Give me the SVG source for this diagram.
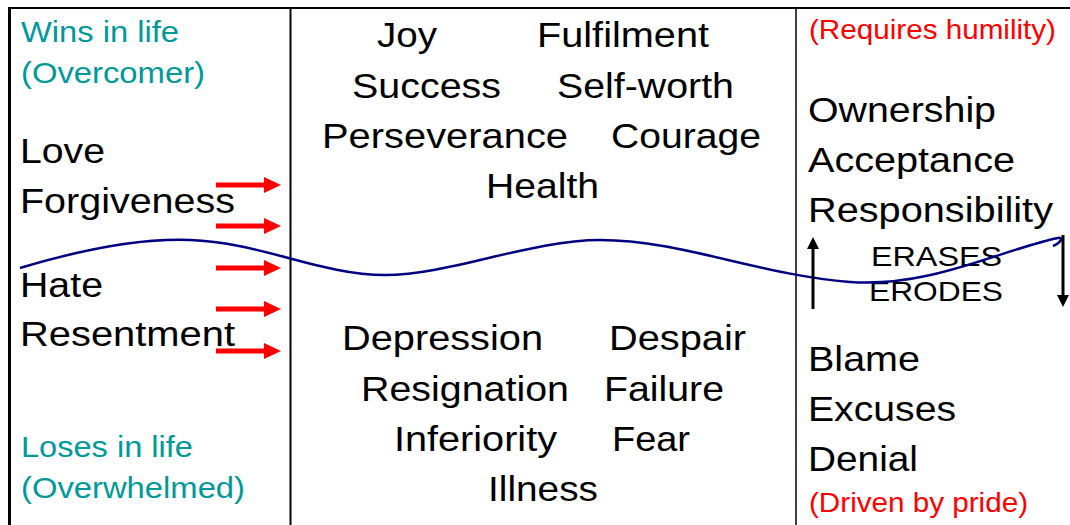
<svg xmlns="http://www.w3.org/2000/svg" width="1070" height="525" viewBox="0 0 1070 525">
<style>
text{font-family:"Liberation Sans",Arial,sans-serif;}
.b{font-size:35px;fill:#000;}
.t{font-size:29px;fill:#009999;}
.r{font-size:28px;fill:#ff0000;}
.e{font-size:28px;fill:#000;}
.grid{stroke:#000;fill:none;}
.ra{fill:#ff0000;}
</style>
<defs>
<marker id="bk" markerWidth="4" markerHeight="4" refX="2" refY="2" orient="auto" markerUnits="strokeWidth">
<path d="M0,0 L4,2 L0,4 z" fill="#000"/>
</marker>
</defs>
<rect width="1070" height="525" fill="#fff"/>
<g id="table">
<line class="grid" x1="8" y1="8" x2="1070" y2="8" stroke-width="2" stroke="#333"/>
<line class="grid" x1="9.5" y1="7" x2="9.5" y2="525" stroke-width="3"/>
<line class="grid" x1="290.5" y1="8" x2="290.5" y2="525" stroke-width="2"/>
<line class="grid" x1="796" y1="8" x2="796" y2="525" stroke-width="1.5"/>
</g>
<g id="left">
<text class="t" x="21" y="42" textLength="158" lengthAdjust="spacingAndGlyphs">Wins in life</text>
<text class="t" x="21" y="83" textLength="184" lengthAdjust="spacingAndGlyphs">(Overcomer)</text>
<text class="b" x="20" y="163" textLength="85" lengthAdjust="spacingAndGlyphs">Love</text>
<text class="b" x="20" y="213" textLength="215" lengthAdjust="spacingAndGlyphs">Forgiveness</text>
<text class="b" x="20" y="297" textLength="83" lengthAdjust="spacingAndGlyphs">Hate</text>
<text class="b" x="20" y="346" textLength="215" lengthAdjust="spacingAndGlyphs">Resentment</text>
<text class="t" x="21" y="457" textLength="172" lengthAdjust="spacingAndGlyphs">Loses in life</text>
<text class="t" x="21" y="498" textLength="224" lengthAdjust="spacingAndGlyphs">(Overwhelmed)</text>
</g>
<g id="middle-top">
<text class="b" x="377" y="47" textLength="60" lengthAdjust="spacingAndGlyphs">Joy</text>
<text class="b" x="537" y="47" textLength="172" lengthAdjust="spacingAndGlyphs">Fulfilment</text>
<text class="b" x="352" y="98" textLength="149" lengthAdjust="spacingAndGlyphs">Success</text>
<text class="b" x="557" y="98" textLength="177" lengthAdjust="spacingAndGlyphs">Self-worth</text>
<text class="b" x="322" y="148" textLength="246" lengthAdjust="spacingAndGlyphs">Perseverance</text>
<text class="b" x="611" y="148" textLength="150" lengthAdjust="spacingAndGlyphs">Courage</text>
<text class="b" x="486" y="198" textLength="113" lengthAdjust="spacingAndGlyphs">Health</text>
</g>
<g id="middle-bottom">
<text class="b" x="342" y="350" textLength="201" lengthAdjust="spacingAndGlyphs">Depression</text>
<text class="b" x="609" y="350" textLength="137" lengthAdjust="spacingAndGlyphs">Despair</text>
<text class="b" x="361" y="401" textLength="208" lengthAdjust="spacingAndGlyphs">Resignation</text>
<text class="b" x="604" y="401" textLength="120" lengthAdjust="spacingAndGlyphs">Failure</text>
<text class="b" x="394" y="451" textLength="163" lengthAdjust="spacingAndGlyphs">Inferiority</text>
<text class="b" x="612" y="451" textLength="78" lengthAdjust="spacingAndGlyphs">Fear</text>
<text class="b" x="488" y="501" textLength="110" lengthAdjust="spacingAndGlyphs">Illness</text>
</g>
<g id="right">
<text class="r" x="809" y="39" textLength="247" lengthAdjust="spacingAndGlyphs">(Requires humility)</text>
<text class="b" x="808" y="122" textLength="188" lengthAdjust="spacingAndGlyphs">Ownership</text>
<text class="b" x="808" y="172" textLength="207" lengthAdjust="spacingAndGlyphs">Acceptance</text>
<text class="b" x="808" y="222" textLength="245" lengthAdjust="spacingAndGlyphs">Responsibility</text>
<text class="e" x="871" y="266" textLength="131" lengthAdjust="spacingAndGlyphs">ERASES</text>
<text class="e" x="869" y="301" textLength="134" lengthAdjust="spacingAndGlyphs">ERODES</text>
<text class="b" x="808" y="371" textLength="112" lengthAdjust="spacingAndGlyphs">Blame</text>
<text class="b" x="808" y="421" textLength="148" lengthAdjust="spacingAndGlyphs">Excuses</text>
<text class="b" x="808" y="471" textLength="110" lengthAdjust="spacingAndGlyphs">Denial</text>
<text class="r" x="809" y="512" textLength="219" lengthAdjust="spacingAndGlyphs">(Driven by pride)</text>
</g>
<g id="connectors">
<g id="red-arrows" class="ra">
<path d="M216,182.5 H264 V177 L281,185 L264,193 V187.5 H216 z"/>
<path d="M216,223.5 H264 V218 L281,226 L264,234 V228.5 H216 z"/>
<path d="M216,265.5 H264 V260 L281,268 L264,276 V270.5 H216 z"/>
<path d="M216,306.5 H264 V301 L281,309 L264,317 V311.5 H216 z"/>
<path d="M216,348.5 H264 V343 L281,351 L264,359 V353.5 H216 z"/>
</g>
<path d="M20,268 C80,250 140,238 190,240 C260,242 320,275 385,275 C450,275 530,240 600,240 C680,240 760,275 850,282 C930,288 1000,250 1058,238 C1063,237 1062,242 1053,246" fill="none" stroke="#000080" stroke-width="2.5"/>
<line x1="813" y1="309" x2="813" y2="243" stroke="#000" stroke-width="3" marker-end="url(#bk)"/>
<line x1="1063" y1="235" x2="1063" y2="301" stroke="#000" stroke-width="3" marker-end="url(#bk)"/>
</g>
</svg>
